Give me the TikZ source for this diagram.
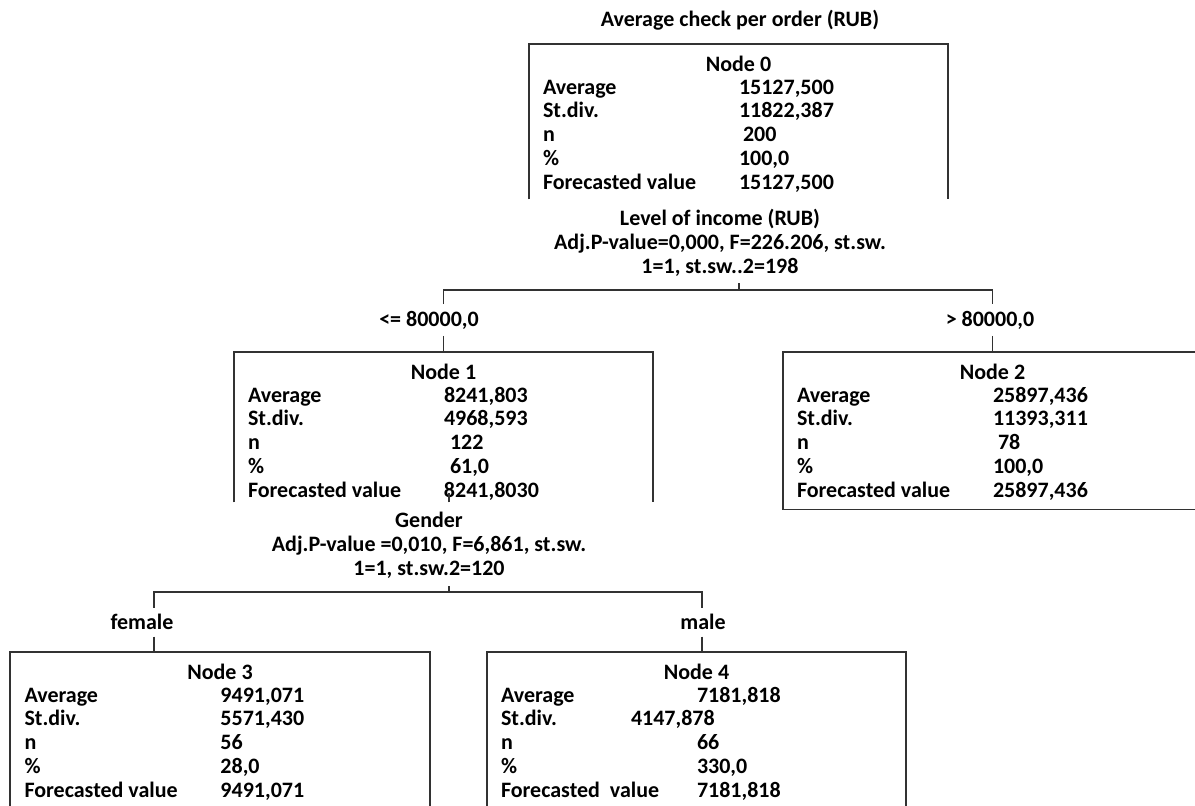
\documentclass[tikz,border=0pt]{standalone}
\usepackage{fontspec}
\setmainfont{Carlito}
\usetikzlibrary{positioning,calc}
\definecolor{RuleGray}{RGB}{50,50,50}
\tikzset{cell/.style={rectangle,inner sep=0pt,minimum width=419pt,anchor=north}, frame/.style={draw=RuleGray,line width=1.8pt}, txt/.style={inner sep=0pt,font=\bfseries\fontsize{22}{23.8}\selectfont}, branch/.style={txt,inner ysep=6.5pt}, rows/.style={txt,anchor=base west}}

\begin{document}
\begin{tikzpicture}[x=1pt,y=-1pt]
\useasboundingbox (0,0) rectangle (1195,806);
\node[txt] (title) at (740,20) {Average check per order (RUB)};
% root node
\node[cell,minimum height=155pt] (box0) at (738.5,44) {};
\draw[frame] (box0.south west) -- (box0.north west) -- (box0.north east) -- (box0.south east);
\node[txt,anchor=base] (head0) at ($(box0.north)+(0,27)$) {Node 0};
\node[rows] (stat0) at ($(box0.north west)+(14,50)$) {\begin{tabular}[t]{@{}p{196pt}@{}l@{}}
Average & 15127,500\\ St.div. & 11822,387\\ n & \hspace{4pt}200\\ \% & 100,0\\ Forecasted value & 15127,500\end{tabular}};
\node[txt,align=center] (split0) at (720,243) {Level of income (RUB)\\Adj.P-value=0,000, F=226.206, st.sw.\\1=1, st.sw..2=198};
% first split
\node[cell,minimum height=150pt] (box1) at (443.5,352) {};
\draw[frame] (box1.south west) -- (box1.north west) -- (box1.north east) -- (box1.south east);
\node[txt,anchor=base] (head1) at ($(box1.north)+(0,27)$) {Node 1};
\node[rows] (stat1) at ($(box1.north west)+(14,50)$) {\begin{tabular}[t]{@{}p{196pt}@{}l@{}}
Average & 8241,803\\ St.div. & 4968,593\\ n & \hspace{6pt}122\\ \% & \hspace{6pt}61,0\\ Forecasted value & 8241,8030\end{tabular}};
\node[cell,minimum height=157pt] (box2) at (992.5,352) {};
\draw[frame] (box2.south west) rectangle (box2.north east);
\node[txt,anchor=base] (head2) at ($(box2.north)+(0,27)$) {Node 2};
\node[rows] (stat2) at ($(box2.north west)+(14,50)$) {\begin{tabular}[t]{@{}p{196pt}@{}l@{}}
Average & 25897,436\\ St.div. & 11393,311\\ n & \hspace{5pt}78\\ \% & 100,0\\ Forecasted value & 25897,436\end{tabular}};
\node[branch] (le1) at (429,320) {<= 80000,0};
\node[branch] (gt2) at (990,320) {> 80000,0};
\coordinate (j0) at (739,290);
\draw[frame] (j0) -- ++(0,-7);
\draw[frame] (le1.north -| box1.north) |- (j0) -| (gt2.north -| box2.north);
\draw[frame] (le1.south -| box1.north) -- (box1.north);
\draw[frame] (gt2.south -| box2.north) -- (box2.north);
% second split
\node[txt,align=center] (split1) at (429,545) {Gender\\Adj.P-value =0,010, F=6,861, st.sw.\\1=1, st.sw.2=120};
\node[cell,minimum height=170pt] (box3) at (220,652) {};
\draw[frame] (box3.south west) -- (box3.north west) -- (box3.north east) -- (box3.south east);
\node[txt,anchor=base] (head3) at ($(box3.north)+(0,27)$) {Node 3};
\node[rows] (stat3) at ($(box3.north west)+(14,50)$) {\begin{tabular}[t]{@{}p{196pt}@{}l@{}}
Average & 9491,071\\ St.div. & 5571,430\\ n & 56\\ \% & 28,0\\ Forecasted value & 9491,071\end{tabular}};
\node[cell,minimum height=170pt] (box4) at (696.5,652) {};
\draw[frame] (box4.south west) -- (box4.north west) -- (box4.north east) -- (box4.south east);
\node[txt,anchor=base] (head4) at ($(box4.north)+(0,27)$) {Node 4};
\node[rows] (stat4) at ($(box4.north west)+(14,50)$) {\begin{tabular}[t]{@{}p{196pt}@{}l@{}}
Average & 7181,818\\ St.div. & \hspace*{-66pt}4147,878\\ n & 66\\ \% & 330,0\\ Forecasted\hspace{5pt} value & 7181,818\end{tabular}};
\node[branch] (fem) at (142,622) {female};
\node[branch] (male) at (703,622) {male};
\coordinate (j1) at (449,592);
\coordinate (j3) at (154,592);
\coordinate (j4) at (702,592);
\draw[frame] (box1.south -| j1) -- ++(0,-9);
\draw[frame] (j1) -- ++(0,-6);
\draw[frame] (fem.north -| j3) -- (j3) -- (j4) -- (male.north -| j4);
\draw[frame] (fem.south -| j3) -- (j3 |- box3.north);
\draw[frame] (male.south -| j4) -- (j4 |- box4.north);
\end{tikzpicture}
\end{document}
